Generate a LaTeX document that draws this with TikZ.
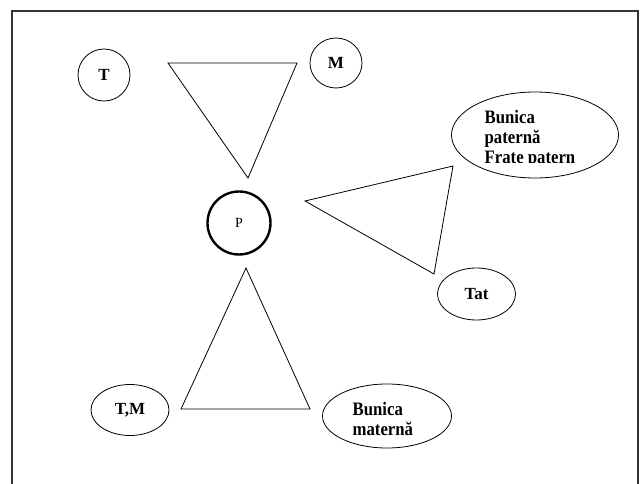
\documentclass[tikz,border=0pt]{standalone}
\usepackage{fontspec}
\setmainfont{Liberation Serif}
\newfontfamily\narrowserif[FakeStretch=0.88]{Liberation Serif}
\usetikzlibrary{shapes.geometric}
\tikzstyle{person} = [ellipse, draw, line width=0.8pt, inner sep=0pt,
    font=\fontsize{17}{20}\selectfont\bfseries]
\tikzstyle{bunica} = [inner sep=0pt, align=left,
    font=\narrowserif\fontsize{19}{20}\selectfont\bfseries]
\tikzstyle{tri} = [draw, line width=0.8pt, line join=miter]

\begin{document}
\begin{tikzpicture}[x=1pt, y=-1pt]
        \useasboundingbox (0,0) rectangle (641,484);
        % Frame (open at the bottom)
        \draw [line width=1.2pt, black!80] (12,490) -- (12,11) -- (638,11) -- (638,490);

        % Persons
        \node [person, minimum width=52pt, minimum height=52pt] (t) at (104,75) {T};
        \node [person, minimum width=52pt, minimum height=50pt] (m) at (336,63) {M};
        \node [circle, draw, line width=2.4pt, minimum size=63pt,
            font=\fontsize{14}{16}\selectfont] (p) at (239,223) {P};
        \node [person, minimum width=167pt, minimum height=86pt] (bp) at (535,135) {};
        \node [person, minimum width=78pt, minimum height=52pt] (tat) at (476.5,294) {Tat};
        \node [person, minimum width=78pt, minimum height=51pt] (tm) at (130,410) {T,M};
        \node [person, minimum width=129pt, minimum height=64pt] (bm) at (387,416) {};

        % Texts of the two grandmother ellipses
        \node [bunica, anchor=north west] (bmtext) at (352.5,402.5) {Bunica\\maternă};
        \begin{scope}
            \clip (450,90) rectangle (620,162.5);
            \node [bunica, anchor=north west] (bptext) at (484.5,110.5)
                {Bunica\\paternă\\Frate patern};
        \end{scope}

        % Triangles
        \path [tri] (168,63) -- (297,63) -- (248,178) -- cycle;
        \path [tri] (305,201) -- (453,166) -- (434,274) -- cycle;
        \path [tri] (246,268) -- (310,409) -- (181,409) -- cycle;
\end{tikzpicture}
\end{document}
